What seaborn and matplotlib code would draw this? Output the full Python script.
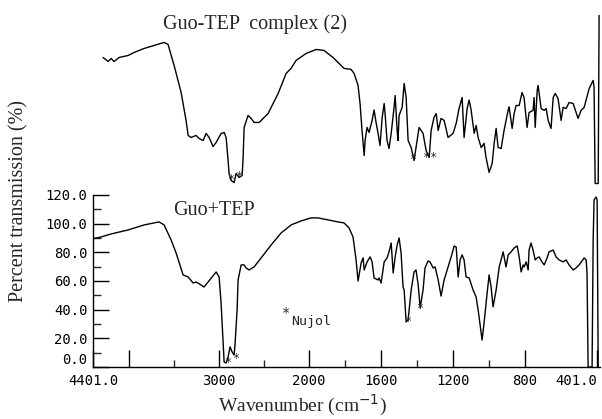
import numpy as np
import pandas as pd
import matplotlib
matplotlib.use("Agg")
import matplotlib.pyplot as plt
import seaborn as sns

# ---- data ----
# Guo+TEP (lower trace): wavenumber (cm-1) and % transmission
guo_tep_wn = [4400, 4311, 4200, 4011, 3833, 3667, 3611, 3533, 3478, 3400, 3344, 3289, 3256, 3200,
              3167, 3122, 3067, 3033, 3000, 2978, 2955, 2944, 2922, 2900, 2878, 2855, 2833, 2822,
              2800, 2789, 2755, 2722, 2700, 2667, 2611, 2533, 2422, 2311, 2200, 2089, 1989, 1950,
              1894, 1839, 1806, 1778, 1756, 1739, 1728, 1711, 1700, 1694, 1678, 1661, 1650, 1639,
              1617, 1611, 1600, 1583, 1567, 1556, 1544, 1533, 1522, 1511, 1500, 1489, 1478, 1472,
              1461, 1450, 1433, 1417, 1406, 1394, 1383, 1367, 1356, 1339, 1328, 1311, 1300, 1283,
              1267, 1250, 1228, 1211, 1194, 1183, 1172, 1161, 1150, 1139, 1128, 1111, 1089, 1072,
              1061, 1039, 1028, 1011, 1000, 989, 978, 961, 944, 922, 906, 894, 878, 861, 844, 833,
              822, 811, 806, 794, 783, 778, 767, 756, 744, 733, 722, 706, 694, 678, 667, 644, 628,
              611, 589, 572, 556, 533, 517, 500, 472, 461, 456, 450, 428, 422, 417, 406, 400, 394]
guo_tep_t = [89.5, 90.7, 92.8, 95.6, 99.1, 101.2, 99.1, 88.6, 79.6, 64.2, 62.8, 58.6, 59.3, 57.2,
             55.8, 59.3, 63.5, 66.3, 62.8, 44.7, 16.7, 3.5, 2.8, 7.0, 14.0, 10.5, 8.4, 16.7,
             39.8, 60.7, 71.2, 71.2, 69.1, 67.7, 69.8, 76.1, 85.1, 93.5, 99.1, 101.9, 104.0, 104.0,
             102.6, 101.2, 100.5, 97.0, 90.7, 74.7, 60.0, 72.6, 76.1, 67.7, 73.3, 76.8, 73.3, 62.1,
             60.7, 62.1, 58.6, 73.3, 76.1, 80.3, 86.5, 65.6, 76.8, 85.1, 90.0, 79.6, 55.8, 53.7,
             31.4, 32.8, 53.7, 66.3, 67.7, 57.2, 41.2, 53.7, 69.1, 74.0, 73.3, 69.1, 69.8, 60.7,
             49.5, 60.7, 69.8, 76.8, 84.4, 83.7, 62.8, 74.7, 78.2, 74.7, 62.8, 62.1, 53.7, 48.8,
             39.8, 18.8, 30.7, 51.6, 64.2, 55.8, 41.9, 53.7, 69.8, 80.3, 69.8, 78.2, 80.3, 83.0, 84.4, 76.8,
             66.3, 71.2, 69.8, 73.3, 67.7, 81.6, 86.5, 81.6, 74.7, 76.1, 76.8, 73.3, 71.2, 76.1, 80.3, 81.6, 76.8,
             74.7, 73.3, 74.7, 71.2, 67.7, 69.1, 71.2, 76.1, 74.7, 65.6, 0.0, 0.0, 88.6, 116.5, 118.6, 116.5, 0.0]

# Guo-TEP complex (2) (upper trace): wavenumber (cm-1) and % transmission in its own frame
complex_wn = [4289, 4233, 4200, 4167, 4111, 4011, 3944, 3833, 3722, 3611, 3567, 3500, 3422, 3367,
              3344, 3311, 3256, 3222, 3178, 3144, 3111, 3067, 3033, 2978, 2944, 2922, 2900, 2889,
              2867, 2833, 2811, 2778, 2744, 2733, 2722, 2678, 2644, 2611, 2555, 2456, 2344, 2255,
              2200, 2144, 2033, 1961, 1917, 1867, 1833, 1806, 1767, 1750, 1728, 1717, 1706, 1694,
              1689, 1678, 1667, 1650, 1639, 1628, 1617, 1606, 1594, 1583, 1578, 1567, 1556, 1544,
              1528, 1522, 1511, 1506, 1500, 1483, 1472, 1461, 1450, 1433, 1417, 1406, 1389, 1367,
              1350, 1333, 1322, 1306, 1294, 1283, 1267, 1250, 1228, 1200, 1183, 1167, 1150, 1139,
              1122, 1111, 1100, 1083, 1072, 1061, 1044, 1028, 1017, 1000, 983, 972, 961, 950, 933,
              917, 894, 889, 872, 861, 850, 833, 817, 806, 789, 778, 756, 750, 744, 733, 728, 711,
              694, 683, 672, 656, 644, 633, 617, 600, 589, 572, 556, 533, 506, 489, 472, 444, 422,
              417, 411, 394, 389]
complex_t = [87.9, 85.1, 87.2, 85.1, 87.9, 89.3, 91.4, 94.2, 96.3, 98.4, 97.0, 82.4, 63.5, 44.0,
             33.5, 32.1, 33.5, 31.4, 30.0, 34.9, 32.1, 25.8, 28.6, 34.9, 35.6, 32.1, 16.0, 7.0,
             2.1, 0.7, 7.0, 4.2, 5.6, 18.1, 39.1, 47.5, 45.4, 42.6, 42.6, 48.8, 62.8, 76.8,
             80.3, 85.9, 90.7, 93.5, 92.8, 87.9, 83.7, 80.3, 79.6, 76.8, 68.4, 55.8, 37.0, 19.5,
             30.0, 39.1, 35.6, 44.0, 51.3, 42.6, 35.0, 26.5, 46.1, 55.8, 48.8, 30.0, 24.4, 35.0,
             53.1, 61.4, 37.0, 30.0, 47.5, 53.1, 69.8, 60.0, 30.0, 25.1, 16.0, 25.1, 39.1, 35.0,
             23.0, 18.1, 37.0, 46.1, 48.8, 37.0, 45.4, 44.0, 32.1, 35.0, 41.9, 52.3, 60.0, 32.1,
             52.3, 58.2, 51.3, 35.0, 40.5, 32.1, 25.1, 28.0, 18.1, 7.7, 14.0, 28.0, 38.4, 25.1, 24.4,
             37.0, 51.3, 53.4, 38.4, 48.8, 54.4, 54.4, 63.5, 60.0, 39.1, 49.5, 51.0, 60.0, 39.1, 64.9, 68.4, 52.3,
             51.0, 52.3, 44.0, 38.4, 60.0, 62.8, 59.3, 44.0, 53.1, 52.3, 56.5, 55.8, 45.4, 51.0, 53.1, 66.3, 71.9,
             67.0, 0.0, 0.0, 117.2]

# Nujol band marks (wavenumber, % transmission, mark text)
nujol_lower_wn = [2900, 2810, 1450, 1383]
nujol_lower_t = [3.0, 6.0, 32.0, 41.0]
nujol_lower_mark = ["*", "*", "*", "*"]
nujol_upper_wn = [2860, 2775, 1420, 1325]
nujol_upper_t = [3.0, 5.0, 17.0, 18.0]
nujol_upper_mark = ["*", "*", "*", "**"]

y_ticks = [0, 20, 40, 60, 80, 100, 120]
y_tick_labels = ["0.0", "20.0", "40.0", "60.0", "80.0", "100.0", "120.0"]
x_ticks = [4401, 4000, 3000, 2000, 1600, 1200, 800, 401]
x_tick_labels = ["4401.0", "", "3000", "2000", "1600", "1200", "800", "401.0"]
x_minor = [3500, 2500, 1800, 1400, 1000]

upper_offset = 128  # vertical offset of the upper trace

# ---- figure ----
sns.set_style("white")
plt.rcParams["font.family"] = ["DejaVu Sans"]
serif = ["Liberation Serif", "DejaVu Serif"]
mono = ["DejaVu Sans Mono"]

fig = plt.figure(figsize=(6.02, 4.19), dpi=100)
ax = fig.add_axes([93 / 602, 52 / 419, 507 / 602, 367 / 419])

def fwd(w):
    w = np.asarray(w, dtype=float)
    return np.where(w >= 2000, w, 2000 - 2 * (2000 - w))

def inv(u):
    u = np.asarray(u, dtype=float)
    return np.where(u >= 2000, u, 2000 - (2000 - u) / 2)

ax.set_xscale("function", functions=(fwd, inv))

lower = pd.DataFrame({"wn": guo_tep_wn, "T": guo_tep_t})
upper = pd.DataFrame({"wn": complex_wn, "T": np.array(complex_t) + upper_offset})

sns.lineplot(data=lower, x="wn", y="T", sort=False, estimator=None, color="black",
             linewidth=1.0, ax=ax)
sns.lineplot(data=upper, x="wn", y="T", sort=False, estimator=None, color="black",
             linewidth=1.0, ax=ax)

for w, t, m in zip(nujol_lower_wn, nujol_lower_t, nujol_lower_mark):
    ax.text(w, t, m, ha="center", va="center", fontsize=8.5, family=mono)
for w, t, m in zip(nujol_upper_wn, nujol_upper_t, nujol_upper_mark):
    ax.text(w, t + upper_offset, m, ha="center", va="center", fontsize=8.5, family=mono)

ax.text(2256, 37.5, "*", ha="center", va="center", fontsize=10, family=mono)
ax.text(2200, 31.5, "Nujol", ha="left", va="center", fontsize=9.5, family=mono)

ax.text(3511, 109.5, "Guo+TEP", ha="left", va="center", fontsize=14.5, family=serif)
ax.text(3622, 239.5, "Guo-TEP  complex (2)", ha="left", va="center", fontsize=14.5, family=serif)

ax.set_xlim(4401, 384)
ax.set_ylim(0, 256)

ax.set_yticks(y_ticks)
ax.set_yticklabels(y_tick_labels, family=mono, fontsize=10)
ax.set_yticks(np.arange(10, 120, 20), minor=True)
ax.set_xticks(x_ticks)
ax.set_xticklabels(x_tick_labels, family=mono, fontsize=10)
ax.set_xticks(x_minor, minor=True)
ax.get_xticklabels()[-1].set_horizontalalignment("right")
ax.get_yticklabels()[0].set_verticalalignment("bottom")

ax.tick_params(axis="y", which="major", direction="in", length=11.5, width=1.0, pad=4, colors="black")
ax.tick_params(axis="y", which="minor", direction="in", length=6, width=1.0)
ax.tick_params(axis="x", which="major", direction="in", length=12, width=1.0, pad=5, colors="black")
ax.tick_params(axis="x", which="minor", direction="in", length=5, width=1.0)
ax.tick_params(left=True, bottom=True, which="both")

for s in ["top", "right"]:
    ax.spines[s].set_visible(False)
ax.spines["left"].set_bounds(0, 120)
ax.spines["left"].set_color("black")
ax.spines["bottom"].set_color("black")
ax.spines["left"].set_linewidth(1.0)
ax.spines["bottom"].set_linewidth(1.0)

ax.set_ylabel("Percent transmission (%)", family=serif, fontsize=14.5)
ax.yaxis.set_label_coords(-0.128, 0.452)
ax.set_xlabel("Wavenumber (cm$^{-1}$)", family=serif, fontsize=14)
ax.xaxis.set_label_coords(0.414, -0.070)

ax.patch.set_alpha(0)
fig.savefig("out.png", dpi=100, facecolor="white")
